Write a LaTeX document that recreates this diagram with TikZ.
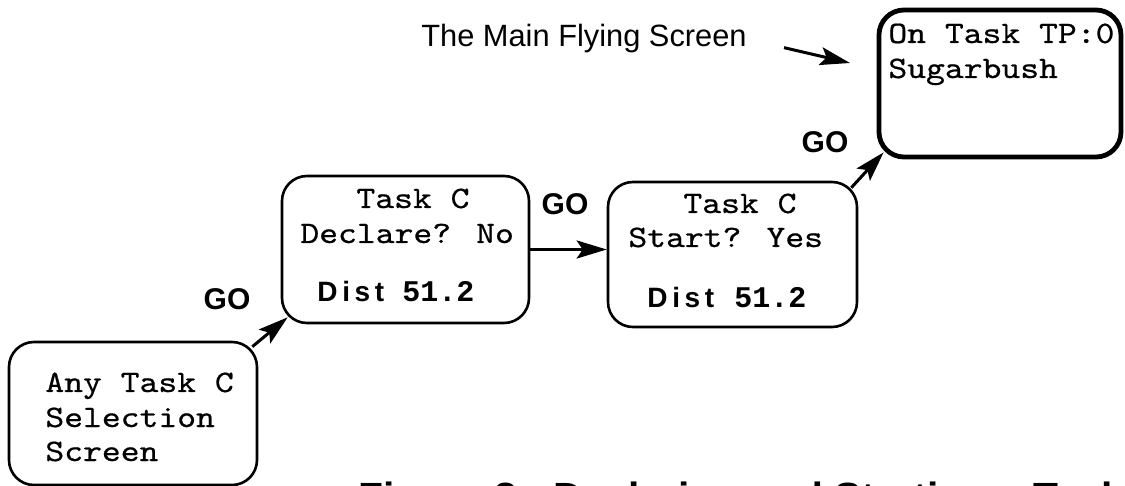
\documentclass[tikz,border=0pt]{standalone}
\usepackage{fontspec}
\setmainfont{Liberation Sans}
\newfontfamily\scrfont{lmmono10-regular.otf}[FakeStretch=1.15,FakeBold=0.6]
\newfontfamily\numfont{Liberation Mono}
\usetikzlibrary{calc}
\usetikzlibrary{arrows.meta}

\tikzset{
  screen/.style={draw, line width=1.3pt, rounded corners=12.5pt, inner sep=0pt},
  scrtxt/.style={inner sep=0pt, anchor=base west, font=\scrfont\fontsize{15.6}{17.5}\selectfont},
  golbl/.style={inner sep=0pt, font=\bfseries\fontsize{15}{15}\selectfont},
  go/.style={line width=1.5pt, -{Stealth[length=15pt,width=9pt,inset=3pt]}},
}
\newcommand{\distval}[1]{{\normalfont\bfseries\fontsize{14}{14}\selectfont D\,i\,s\,t}\hspace{#1}{\numfont\bfseries\fontsize{15}{15}\selectfont 51.2}}

\begin{document}
\begin{tikzpicture}[x=0.5pt,y=-0.5pt]
    \useasboundingbox (0,0) rectangle (1125,486);
    \clip (0,0) rectangle (1125,486);

    % the four screens
    \node[screen, minimum width=124pt, minimum height=71.5pt] (sel) at (133,413.5) {};
    \node[screen, minimum width=123.5pt, minimum height=73.5pt] (decl) at (405.5,249.5) {};
    \node[screen, minimum width=124.5pt, minimum height=72.5pt] (strt) at (732.5,254.5) {};
    \node[screen, line width=2.4pt, minimum width=121pt, minimum height=73.5pt] (fly) at (1000,83.5) {};

    \node[scrtxt] (sel1) at (45,392) {Any Task C};
    \node[scrtxt] (sel2) at (45,427) {Selection};
    \node[scrtxt] (sel3) at (45,461) {Screen};

    \node[scrtxt, anchor=base] (decl1) at (413,208) {Task C};
    \node[scrtxt] (decl2) at (300,243) {Declare? No};
    \node[scrtxt] (decl3) at (317,302) {\distval{9pt}};

    \node[scrtxt, anchor=base] (strt1) at (740,213) {Task C};
    \node[scrtxt] (strt2) at (628,247) {Start? Yes};
    \node[scrtxt] (strt3) at (647,307) {\distval{10pt}};

    \node[scrtxt] (fly1) at (888,43) {On Task TP:0};
    \node[scrtxt] (fly2) at (888,78) {Sugarbush};

    % key presses
    \node[golbl] (go1) at (227,299) {GO};
    \node[golbl] (go2) at (565,204) {GO};
    \node[golbl] (go3) at (825,142) {GO};

    \draw[go] ($(sel.north east)+(-6,6)$) -- ($(decl.south west)+(7,-7)$);
    \draw[go] (decl.east) -- (decl.east -| strt.west);
    \draw[go] ($(strt.north east)+(-7,7)$) -- ($(fly.south west)+(7,-7)$);

    \node[inner sep=0pt, anchor=base east, font=\fontsize{15.4}{15.4}\selectfont] (lbl) at (747,47) {The Main Flying Screen};
    \coordinate (ptr) at (850,63);
    \draw[go, shorten <=19pt] (lbl.east) -- (ptr);

    \node[inner sep=0pt, anchor=base west, font=\bfseries\fontsize{20.4}{20.4}\selectfont] (cap) at (358,511) {Figure 8 - Declaring and Starting a Task};

\end{tikzpicture}
\end{document}
